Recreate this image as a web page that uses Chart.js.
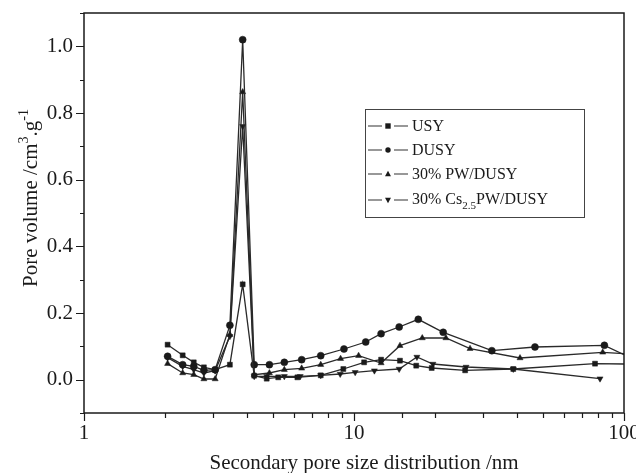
<!DOCTYPE html>
<html>
<head>
<meta charset="utf-8">
<script src="https://cdn.jsdelivr.net/npm/chart.js@4.4.1/dist/chart.umd.min.js"></script>
<style>
html, body { margin: 0; padding: 0; background: #fff; }
#wrap { width: 636px; height: 473px; }
</style>
</head>
<body>
<div id="wrap"><canvas id="c" width="636" height="473"></canvas></div>
<script>
// series (pore size nm, pore volume cm3/g)
var seriesNames = ['USY', 'DUSY', '30% PW/DUSY', '30% Cs2.5PW/DUSY'];

var usyX = [2.04, 2.32, 2.55, 2.78, 3.06, 3.47, 3.87, 4.27, 4.75, 5.24, 6.17, 7.53, 9.13, 10.9, 12.6, 14.8, 17.0, 19.4, 25.8, 38.9, 78.1, 100];
var usyY = [0.105, 0.073, 0.052, 0.037, 0.030, 0.045, 0.286, 0.012, 0.003, 0.007, 0.007, 0.013, 0.032, 0.052, 0.060, 0.057, 0.042, 0.035, 0.028, 0.032, 0.048, 0.047];

var dusyX = [2.04, 2.32, 2.55, 2.78, 3.06, 3.47, 3.87, 4.27, 4.86, 5.52, 6.40, 7.53, 9.18, 11.05, 12.6, 14.7, 17.3, 21.4, 32.4, 46.8, 84.6, 100];
var dusyY = [0.070, 0.045, 0.040, 0.028, 0.030, 0.163, 1.02, 0.045, 0.045, 0.052, 0.060, 0.072, 0.092, 0.113, 0.138, 0.158, 0.181, 0.142, 0.087, 0.098, 0.103, 0.075];

var pwX = [2.04, 2.32, 2.55, 2.78, 3.06, 3.47, 3.87, 4.27, 4.86, 5.52, 6.40, 7.53, 8.92, 10.4, 12.6, 14.8, 17.9, 21.9, 26.9, 41.2, 83.4, 100];
var pwY = [0.048, 0.020, 0.015, 0.002, 0.002, 0.135, 0.863, 0.015, 0.020, 0.030, 0.034, 0.045, 0.063, 0.072, 0.050, 0.102, 0.125, 0.125, 0.093, 0.065, 0.082, 0.078];

var csX = [2.04, 2.32, 2.55, 2.78, 3.06, 3.47, 3.87, 4.27, 4.75, 5.52, 6.32, 7.53, 8.89, 10.1, 11.9, 14.7, 17.1, 19.6, 26.0, 38.9, 81.5];
var csY = [0.066, 0.040, 0.030, 0.020, 0.027, 0.130, 0.760, 0.010, 0.010, 0.010, 0.010, 0.013, 0.017, 0.022, 0.027, 0.032, 0.068, 0.047, 0.038, 0.032, 0.003];

var xTickLabels = [1, 10, 100];
var yTickLabels = [0, 0.2, 0.4, 0.6, 0.8, 1.0];

var FONT = "'Liberation Serif', 'Times New Roman', serif";
var INK = '#1a1a1a';

function pairs(xs, ys) {
    var out = [];
    for (var i = 0; i < xs.length; i++) out.push({ x: xs[i], y: ys[i] });
    return out;
}

function isLabelled(list, v) {
    for (var i = 0; i < list.length; i++) {
        if (Math.abs(list[i] - v) < 1e-6) return true;
    }
    return false;
}

// no marker on points that sit on the right border
function hideEdge(ctx) {
    return ctx.raw && ctx.raw.x >= 100 ? 0 : 3.5;
}

function makeSet(name, xs, ys, style, rot) {
    return {
        label: name,
        data: pairs(xs, ys),
        borderColor: '#2a2a2a',
        borderWidth: 1.3,
        backgroundColor: INK,
        pointBackgroundColor: INK,
        pointBorderColor: INK,
        pointBorderWidth: 0.5,
        pointStyle: style,
        pointRotation: rot || 0,
        pointRadius: hideEdge,
        tension: 0,
        fill: false
    };
}

function drawMarker(ctx, style, x, y, r) {
    ctx.beginPath();
    if (style === 'rect') {
        ctx.rect(x - r, y - r, 2 * r, 2 * r);
    } else if (style === 'circle') {
        ctx.arc(x, y, r, 0, Math.PI * 2);
    } else if (style === 'up') {
        ctx.moveTo(x, y - r * 1.2);
        ctx.lineTo(x + r * 1.1, y + r * 0.8);
        ctx.lineTo(x - r * 1.1, y + r * 0.8);
        ctx.closePath();
    } else {
        ctx.moveTo(x, y + r * 1.2);
        ctx.lineTo(x + r * 1.1, y - r * 0.8);
        ctx.lineTo(x - r * 1.1, y - r * 0.8);
        ctx.closePath();
    }
    ctx.fill();
}

// frame, tick marks, axis titles and legend box
var decorPlugin = {
    id: 'decor',
    afterDraw: function(chart) {
        var ctx = chart.ctx;
        var a = chart.chartArea;
        var xs = chart.scales.x, ys = chart.scales.y;
        ctx.save();
        ctx.strokeStyle = INK;
        ctx.lineWidth = 1.5;
        ctx.strokeRect(a.left, a.top, a.right - a.left, a.bottom - a.top);

        ctx.lineWidth = 1.2;
        ctx.beginPath();
        xs.ticks.forEach(function(t) {
            var px = Math.round(xs.getPixelForValue(t.value)) + 0.5;
            var len = isLabelled(xTickLabels, t.value) ? 8 : 5;
            ctx.moveTo(px, a.bottom);
            ctx.lineTo(px, a.bottom + len);
        });
        ys.ticks.forEach(function(t) {
            var py = Math.round(ys.getPixelForValue(t.value)) + 0.5;
            var len = isLabelled(yTickLabels, t.value) ? 8 : 4;
            ctx.moveTo(a.left, py);
            ctx.lineTo(a.left - len, py);
        });
        ctx.stroke();

        // x title
        ctx.fillStyle = INK;
        ctx.font = '21px ' + FONT;
        ctx.textAlign = 'center';
        ctx.textBaseline = 'alphabetic';
        ctx.fillText('Secondary pore size distribution /nm', 364, 469);

        // y title with superscripts
        ctx.save();
        ctx.translate(37, 287);
        ctx.rotate(-Math.PI / 2);
        ctx.textAlign = 'left';
        var cx = 0;
        var parts = [['Pore volume /cm', 0, 21], ['3', -9, 14], ['.g', 0, 21], ['-1', -9, 14]];
        parts.forEach(function(p) {
            ctx.font = p[2] + 'px ' + FONT;
            ctx.fillText(p[0], cx, p[1]);
            cx += ctx.measureText(p[0]).width;
        });
        ctx.restore();

        // legend
        var bx = 365, by = 109, bw = 219, bh = 108;
        ctx.lineWidth = 1;
        ctx.strokeStyle = '#444';
        ctx.strokeRect(bx + 0.5, by + 0.5, bw, bh);
        var rows = [126, 150, 174, 200];
        var marks = ['rect', 'circle', 'up', 'down'];
        ctx.textBaseline = 'middle';
        ctx.textAlign = 'left';
        rows.forEach(function(ry, i) {
            ctx.strokeStyle = '#333';
            ctx.lineWidth = 1.2;
            ctx.beginPath();
            ctx.moveTo(368, ry); ctx.lineTo(382, ry);
            ctx.moveTo(394, ry); ctx.lineTo(408, ry);
            ctx.stroke();
            ctx.fillStyle = INK;
            drawMarker(ctx, marks[i], 388, ry, 2.7);
            ctx.font = '16px ' + FONT;
            if (i < 3) {
                ctx.fillText(seriesNames[i], 412, ry + 1);
            } else {
                var t1 = '30% Cs', t2 = '2.5', t3 = 'PW/DUSY';
                var x0 = 412;
                ctx.fillText(t1, x0, ry);
                x0 += ctx.measureText(t1).width;
                ctx.font = '11px ' + FONT;
                ctx.fillText(t2, x0, ry + 6);
                x0 += ctx.measureText(t2).width;
                ctx.font = '16px ' + FONT;
                ctx.fillText(t3, x0, ry);
            }
        });
        ctx.restore();
    }
};

new Chart(document.getElementById('c'), {
    type: 'line',
    data: {
        datasets: [
            makeSet(seriesNames[0], usyX, usyY, 'rect'),
            makeSet(seriesNames[1], dusyX, dusyY, 'circle'),
            makeSet(seriesNames[2], pwX, pwY, 'triangle'),
            makeSet(seriesNames[3], csX, csY, 'triangle', 180)
        ]
    },
    options: {
        responsive: false,
        animation: false,
        devicePixelRatio: 1,
        layout: { padding: { left: 0, top: 13, right: 12, bottom: 0 } },
        plugins: {
            legend: { display: false },
            tooltip: { enabled: false }
        },
        scales: {
            x: {
                type: 'logarithmic',
                min: 1,
                max: 100,
                grid: { display: false, drawTicks: false, tickLength: 0 },
                border: { display: false },
                ticks: {
                    autoSkip: false,
                    maxRotation: 0,
                    padding: 8,
                    color: INK,
                    font: { family: FONT, size: 21 },
                    callback: function(v) { return isLabelled(xTickLabels, v) ? String(v) : ''; }
                },
                afterFit: function(s) { s.height = 60; s.paddingLeft = 0; s.paddingRight = 0; }
            },
            y: {
                min: -0.1,
                max: 1.1,
                grid: { display: false, drawTicks: false, tickLength: 0 },
                border: { display: false },
                ticks: {
                    stepSize: 0.1,
                    padding: 11,
                    color: INK,
                    font: { family: FONT, size: 21 },
                    callback: function(v) { return isLabelled(yTickLabels, v) ? v.toFixed(1) : ''; }
                },
                afterFit: function(s) { s.width = 84; s.paddingTop = 0; s.paddingBottom = 0; }
            }
        }
    },
    plugins: [decorPlugin]
});
</script>
</body>
</html>
